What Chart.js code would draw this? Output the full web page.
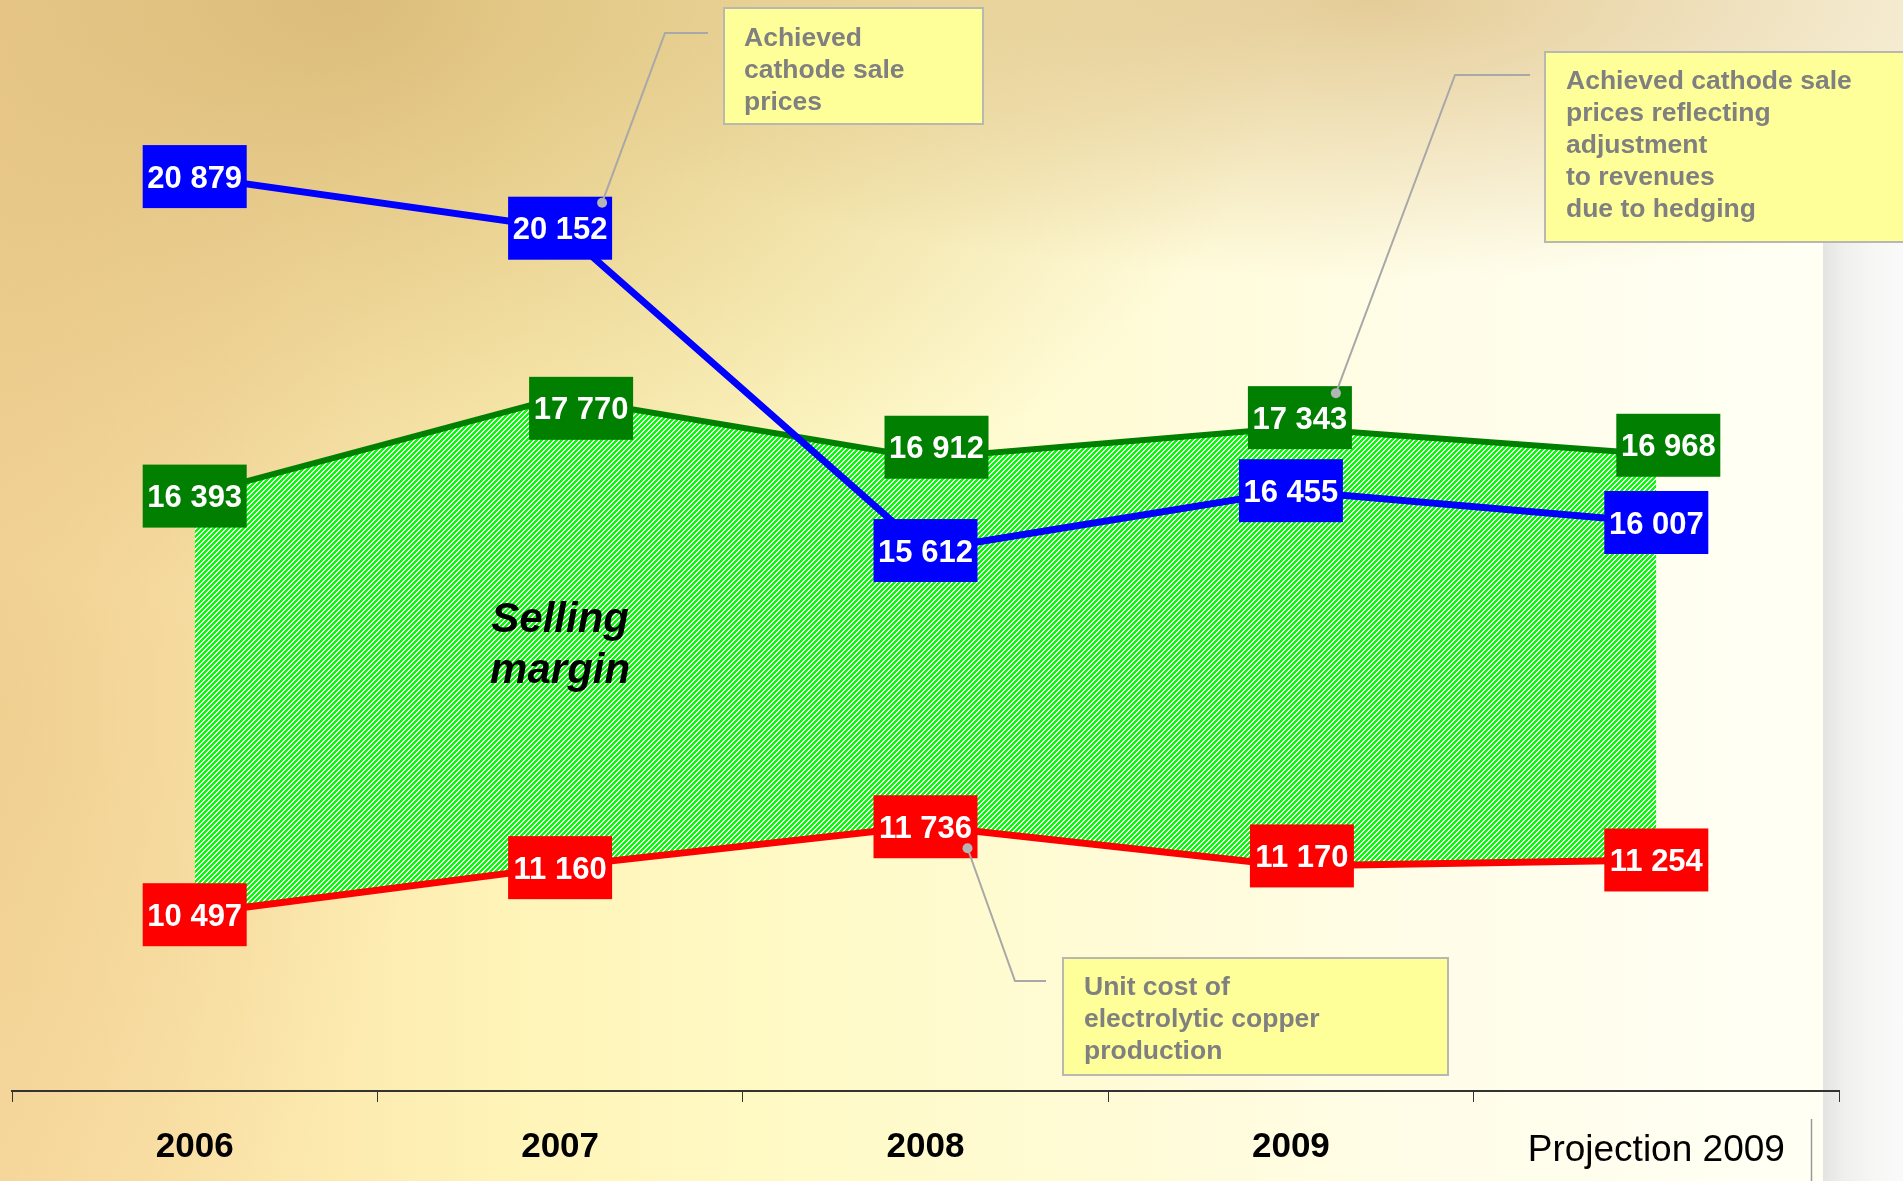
<!DOCTYPE html>
<html><head><meta charset="utf-8">
<script src="https://cdn.jsdelivr.net/npm/chart.js@4.4.0/dist/chart.umd.min.js"></script>
<style>
html,body{margin:0;padding:0;width:1903px;height:1181px;overflow:hidden;background:#fff;}
#bg{position:absolute;left:0;top:0;width:1903px;height:1181px;
background:
 radial-gradient(ellipse 950px 600px at 18% 0%, rgba(214,180,112,0.85), rgba(214,180,112,0) 100%),
 radial-gradient(ellipse 900px 280px at 72% 0%, rgba(222,192,132,0.8), rgba(222,192,132,0) 100%),
 radial-gradient(ellipse 420px 650px at 0% 60%, rgba(230,196,130,0.45), rgba(230,196,130,0) 100%),
 linear-gradient(90deg, #f8d99e 0%, #fbe4aa 12%, #fff4b8 27%, #fffac6 42%, #fffbd6 58%, #fffde8 75%, #fffff3 92%);}
#band{position:absolute;left:1823px;top:230px;width:80px;height:951px;
background:linear-gradient(90deg,#e4e4e2 0%,#efefed 25%,#f6f6f5 60%,#fafafa 100%);}
#wrap{position:absolute;left:0;top:0;width:1903px;height:1181px;}
</style></head><body>
<div id="bg"></div><div id="band"></div>
<div id="wrap"><canvas id="c" width="1903" height="1181"></canvas></div>
<script>
// ---- data ----
const categories = ['2006', '2007', '2008', '2009', 'Projection 2009'];
const salePrices = [20879, 20152, 15612, 16455, 16007];      // achieved cathode sale prices
const hedgedPrices = [16393, 17770, 16912, 17343, 16968];    // prices reflecting hedging adjustment
const unitCost = [10497, 11160, 11736, 11170, 11254];        // unit cost of electrolytic copper
const yMin = 8000, yMax = 23000;

// ---- styles ----
const colBlue = '#0000ff', colGreen = '#007f00', colRed = '#ff0000';
const boxW = 104, boxH = 63;
// label box nudges (px) relative to each point, per dataset index
const boxShift = {
  0: [[0,0],[0,0],[0,0],[0,0],[0,0]],
  1: [[0,1],[21,11],[11,-11],[9,-10],[12,-9]],
  2: [[0,1],[0,1],[0,1],[11,-10],[0,0]]
};
const callouts = [
  {x:724, y:8, w:259, h:116, tx:744, ty:38.5, lines:['Achieved','cathode sale','prices'],
   ds:0, idx:1, anchor:(b)=>[b.r-10, b.t+6], path:[[665,33],[708,33]]},
  {x:1545, y:52, w:370, h:190, tx:1566, ty:81.5, lines:['Achieved cathode sale','prices reflecting','adjustment','to revenues','due to hedging'],
   ds:1, idx:3, anchor:(b)=>[b.r-16, b.t+7], path:[[1455,75],[1530,75]]},
  {x:1063, y:958, w:385, h:117, tx:1084, ty:988, lines:['Unit cost of','electrolytic copper','production'],
   ds:2, idx:2, anchor:(b)=>[b.r-10, b.b-10], path:[[1015,981],[1046,981]]}
];

const canvas = document.getElementById('c');
const mainCtx = canvas.getContext('2d');

function makeHatch(){
  const t = document.createElement('canvas'); t.width = 5; t.height = 5;
  const g = t.getContext('2d'); const img = g.createImageData(5,5);
  for (let y=0;y<5;y++) for (let x=0;x<5;x++){
    const on = ((x+y)%5) < 3; const k = (y*5+x)*4;
    img.data[k] = on?0:255; img.data[k+1] = 255; img.data[k+2] = on?0:255; img.data[k+3] = 255;
  }
  g.putImageData(img,0,0);
  return mainCtx.createPattern(t,'repeat');
}

function fmt(v){ return String(v).replace(/\B(?=(\d{3})+(?!\d))/g, ' '); }

function boxRect(chart, ds, i){
  const p = chart.getDatasetMeta(ds).data[i];
  const s = boxShift[ds][i];
  const cx = p.x + s[0], cy = p.y + s[1];
  return {cx, cy, l:cx-boxW/2, t:cy-boxH/2, r:cx+boxW/2, b:cy+boxH/2};
}

const valueBoxes = {
  id:'valueBoxes',
  afterDatasetsDraw(chart){
    const ctx = chart.ctx;
    ctx.save();
    [2,1,0].forEach(ds=>{
      const dset = chart.data.datasets[ds];
      dset.data.forEach((v,i)=>{
        const b = boxRect(chart, ds, i);
        ctx.fillStyle = dset.borderColor;
        ctx.fillRect(b.l, b.t, boxW, boxH);
        ctx.fillStyle = '#ffffff';
        ctx.font = 'bold 31px Arial, "Liberation Sans", sans-serif';
        ctx.textAlign = 'center'; ctx.textBaseline = 'middle';
        ctx.fillText(fmt(v), b.cx, b.cy + 2.5);
      });
    });
    ctx.restore();
  }
};

const decorations = {
  id:'decorations',
  afterDraw(chart){
    const ctx = chart.ctx;
    ctx.save();
    // Selling margin text
    const xs = chart.scales.x;
    ctx.fillStyle = '#000';
    ctx.font = 'italic bold 42px Arial, "Liberation Sans", sans-serif';
    ctx.textAlign = 'center'; ctx.textBaseline = 'middle';
    const mx = xs.getPixelForValue(1);
    ctx.fillText('Selling', mx, 620);
    ctx.fillText('margin', mx, 671);
    // callouts
    callouts.forEach(c=>{
      const b = boxRect(chart, c.ds, c.idx);
      const a = c.anchor(b);
      ctx.strokeStyle = '#a8a8a8'; ctx.lineWidth = 2;
      ctx.beginPath(); ctx.moveTo(a[0], a[1]);
      c.path.forEach(p=>ctx.lineTo(p[0], p[1]));
      ctx.stroke();
      ctx.fillStyle = '#b4b4b4';
      ctx.beginPath(); ctx.arc(a[0], a[1], 5, 0, Math.PI*2); ctx.fill();
      ctx.fillStyle = '#ffff99';
      ctx.fillRect(c.x, c.y, c.w, c.h);
      ctx.strokeStyle = '#b8b8b0'; ctx.lineWidth = 2;
      ctx.strokeRect(c.x, c.y, c.w, c.h);
      ctx.fillStyle = '#808080';
      ctx.font = 'bold 26.5px Arial, "Liberation Sans", sans-serif';
      ctx.textAlign = 'left'; ctx.textBaseline = 'middle';
      c.lines.forEach((t,k)=>ctx.fillText(t, c.tx, c.ty + k*32));
    });
    // separator near projection label
    ctx.strokeStyle = '#9a9a9a'; ctx.lineWidth = 1.5;
    ctx.beginPath(); ctx.moveTo(1811.5, 1119); ctx.lineTo(1811.5, 1181); ctx.stroke();
    ctx.restore();
  }
};

new Chart(canvas, {
  type:'line',
  data:{
    labels: categories,
    datasets:[
      {label:'Achieved cathode sale prices', data: salePrices, borderColor: colBlue, borderWidth: 7,
       pointRadius: 0, fill: false, tension: 0, order: 0},
      {label:'Prices reflecting hedging', data: hedgedPrices, borderColor: colGreen, borderWidth: 6,
       pointRadius: 0, fill: '+1', backgroundColor: makeHatch(), tension: 0, order: 1},
      {label:'Unit cost', data: unitCost, borderColor: colRed, borderWidth: 7,
       pointRadius: 0, fill: false, tension: 0, order: 2}
    ]
  },
  options:{
    responsive:false, animation:false, devicePixelRatio:1,
    layout:{padding:{left:12, right:64, top:26, bottom:0}},
    plugins:{legend:{display:false}, tooltip:{enabled:false}, filler:{drawTime:'beforeDatasetsDraw'}},
    scales:{
      x:{
        type:'category', offset:true,
        grid:{offset:true, drawOnChartArea:false, drawTicks:true, tickLength:11, color:'#333', lineWidth:1},
        border:{display:true, color:'#333', width:2},
        ticks:{
          padding:24, color:'#000', maxRotation:0, autoSkip:false,
          font:(ctx)=> ctx.index === 4
            ? {family:'Arial, "Liberation Sans", sans-serif', size:37, weight:'normal', lineHeight:1.35}
            : {family:'Arial, "Liberation Sans", sans-serif', size:35, weight:'bold', lineHeight:1.2}
        },
        afterFit:(scale)=>{ scale.height = 90; }
      },
      y:{display:false, min:yMin, max:yMax}
    }
  },
  plugins:[valueBoxes, decorations]
});
</script>
</body></html>
